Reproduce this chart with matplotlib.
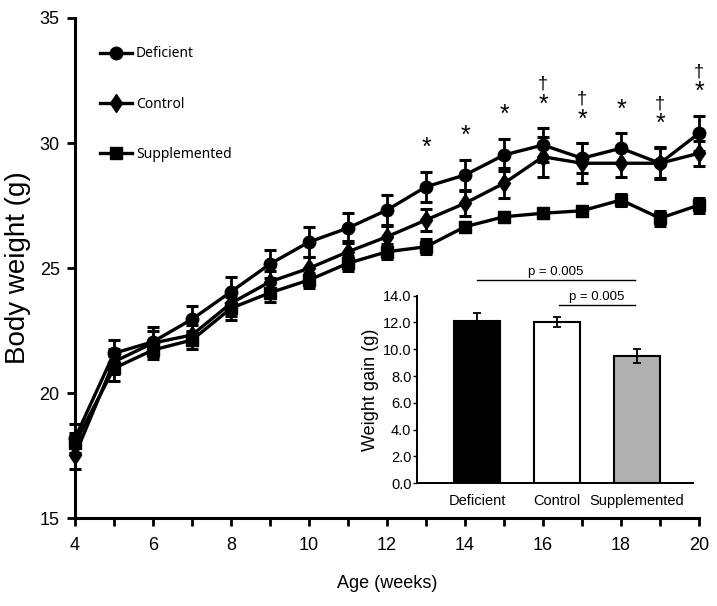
import numpy as np
from matplotlib import pyplot as plt
from matplotlib.lines import Line2D

plt.rcParams['font.family'] = ['Liberation Sans', 'DejaVu Sans']

weeks = np.arange(4, 21)

deficient = [18.19, 21.59, 22.05, 22.95, 24.05, 25.16, 26.04, 26.60, 27.32, 28.25,
             28.72, 29.52, 29.92, 29.39, 29.79, 29.19, 30.39]
deficient_err = [0.57, 0.53, 0.58, 0.55, 0.58, 0.55, 0.60, 0.60, 0.60, 0.60,
                 0.60, 0.65, 0.67, 0.60, 0.60, 0.60, 0.70]
control = [17.52, 21.25, 22.00, 22.32, 23.59, 24.45, 24.99, 25.65, 26.25, 26.92,
           27.59, 28.39, 29.45, 29.19, 29.19, 29.19, 29.59]
control_err = [0.57, 0.50, 0.50, 0.40, 0.50, 0.45, 0.45, 0.45, 0.45, 0.45,
               0.50, 0.60, 0.80, 0.80, 0.56, 0.64, 0.50]
supplemented = [17.99, 20.99, 21.72, 22.12, 23.39, 24.01, 24.52, 25.19, 25.65, 25.85,
                26.65, 27.05, 27.19, 27.29, 27.72, 26.99, 27.52]
supplemented_err = [0.40, 0.50, 0.35, 0.35, 0.45, 0.35, 0.30, 0.30, 0.30, 0.30,
                    0.20, 0.20, 0.20, 0.20, 0.25, 0.30, 0.30]

star_weeks = [13, 14, 15, 16, 17, 18, 19, 20]
dagger_weeks = [16, 17, 19, 20]

groups = ['Deficient', 'Control', 'Supplemented']
gain = [12.13, 12.06, 9.50]
gain_err = [0.60, 0.38, 0.52]
gain_colors = ['black', 'white', '#b0b0b0']
p_values = ['p = 0.005', 'p = 0.005']


def main():
    fig = plt.figure(figsize=(7.17, 6.06), dpi=100)
    ax = fig.add_axes([0.1046, 0.1452, 0.8703, 0.8251])

    series = [
        ('Deficient', deficient, deficient_err, 'o', 9),
        ('Control', control, control_err, 'd', 9.5),
        ('Supplemented', supplemented, supplemented_err, 's', 8.5),
    ]
    for name, vals, err, marker, ms in series[::-1]:
        ax.errorbar(weeks, vals, yerr=err, color='black', lw=2.4, marker=marker, ms=ms,
                    elinewidth=2, capsize=4, capthick=2.2, clip_on=False, zorder=3)

    tops = np.max([np.add(v, e) for _, v, e, _, _ in series], axis=0)
    for w in star_weeks:
        y = tops[w - 4] + 0.95
        ax.text(w, y, '*', ha='center', va='center', fontsize=18)
        if w in dagger_weeks:
            ax.text(w, y + 0.8, '\u2020', ha='center', va='center', fontsize=13)

    handles = [Line2D([], [], color='black', lw=2.4, marker=m, ms=ms) for _, _, _, m, ms in series]
    ax.legend(handles, groups, loc='upper left', bbox_to_anchor=(0.04, 0.943), frameon=False,
              borderpad=0, borderaxespad=0, handlelength=2.3, handletextpad=0.3,
              labelspacing=2.53, prop={'family': 'Noto Sans', 'size': 10})

    ax.set_xlim(4, 20)
    ax.set_ylim(15, 35)
    ax.set_xticks(range(4, 21, 2))
    ax.set_xticks(range(5, 20, 2), minor=True)
    ax.set_yticks(range(15, 36, 5))
    for s in ['top', 'right']:
        ax.spines[s].set_visible(False)
    for s in ['left', 'bottom']:
        ax.spines[s].set_linewidth(2.2)
    ax.tick_params(which='both', direction='out', length=6, width=2, labelsize=13)
    ax.tick_params(axis='x', pad=8)
    ax.tick_params(axis='y', pad=5)
    ax.set_xlabel('Age (weeks)', fontsize=13, labelpad=15)
    ax.set_ylabel('Body weight (g)', fontsize=20, labelpad=6)

    # inset bar chart of weight gain
    ins = fig.add_axes([0.5816, 0.2025, 0.385, 0.3096])
    x = np.arange(len(groups))
    ins.bar(x, gain, width=0.58, color=gain_colors, edgecolor='black', lw=1.5, zorder=2)
    ins.errorbar(x, gain, yerr=gain_err, fmt='none', ecolor='black', elinewidth=1.3,
                 capsize=3, capthick=1.3, zorder=3)
    ins.set_xlim(-0.75, 2.7)
    ins.set_ylim(0, 14)
    ins.set_yticks(np.arange(0, 15, 2))
    ins.set_yticklabels(['{:.1f}'.format(v) for v in np.arange(0, 15, 2)])
    ins.set_xticks(x)
    ins.set_xticklabels(groups)
    ins.tick_params(axis='x', length=0, labelsize=10.5, pad=8)
    ins.tick_params(axis='y', length=3, width=1, labelsize=10.5, pad=1)
    for s in ['top', 'right']:
        ins.spines[s].set_visible(False)
    for s in ['left', 'bottom']:
        ins.spines[s].set_linewidth(1.4)
    ins.patch.set_alpha(0)
    ins.set_ylabel('Weight gain (g)', fontsize=13, labelpad=3)

    ins.plot([0, 1.97], [15.17, 15.17], color='black', lw=1, clip_on=False)
    ins.text(0.98, 15.35, p_values[0], ha='center', va='bottom', fontsize=9.5)
    ins.plot([1.03, 1.97], [13.3, 13.3], color='black', lw=1, clip_on=False)
    ins.text(1.5, 13.48, p_values[1], ha='center', va='bottom', fontsize=9.5)

    plt.savefig('out.png', dpi=100)


if __name__ == '__main__':
    main()
